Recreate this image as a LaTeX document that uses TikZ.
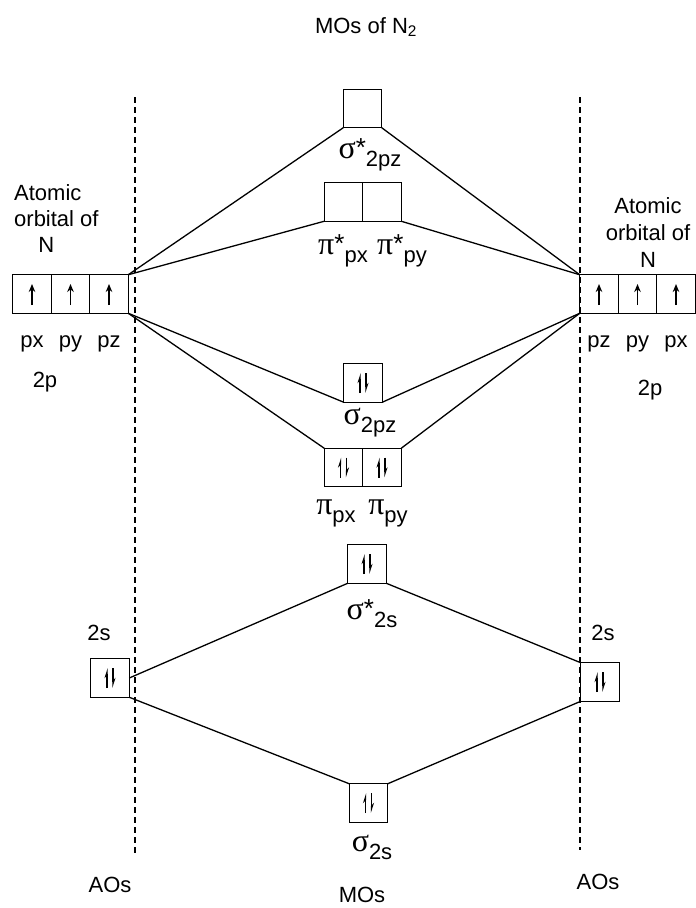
\documentclass[tikz,border=0pt]{standalone}
\usepackage{fontspec}
\setmainfont{Liberation Sans}
\newfontfamily\grkfont{Liberation Serif}
\usetikzlibrary{positioning,arrows.meta}

% orbital labels: big greek letter, lowered index
\newcommand{\molab}[3]{{\grkfont\fontsize{32}{34}\selectfont #1}#2\raisebox{-8pt}{#3}}
\newcommand{\anti}{\raisebox{2pt}{\fontsize{26}{26}\selectfont *}}
% electrons in a box
\newcommand{\upspin}[1]{\draw[spin,-{Stealth[length=8pt,width=6.5pt]}] ([yshift=-11pt]#1.center) -- ([yshift=10pt]#1.center);}
\newcommand{\paired}[1]{%
  \draw[spin,-{Stealth[left,length=8pt,width=5pt]}] ([xshift=-3pt,yshift=-10pt]#1.center) -- ([xshift=-3pt,yshift=10pt]#1.center);
  \draw[spin,-{Stealth[left,length=8pt,width=5pt]}] ([xshift=3pt,yshift=10pt]#1.center) -- ([xshift=3pt,yshift=-10pt]#1.center);}

\begin{document}
\begin{tikzpicture}[x=1pt,y=-1pt,
  orb/.style={draw, line width=1.4pt, minimum width=38.5pt, minimum height=38.5pt, inner sep=0pt, outer sep=0pt},
  lab/.style={font=\fontsize{22}{26}\selectfont, inner sep=0pt},
  link/.style={line width=1.3pt},
  spin/.style={line width=1.5pt},
  axis/.style={line width=1.4pt, dash pattern=on 6pt off 4pt}]
  \useasboundingbox (0,0) rectangle (696,908);

  \node[lab] (title) at (366,27) {MOs of N\textsubscript{2}};

  % dashed guides
  \coordinate (ltop) at (135,97);
  \coordinate (lbot) at (135,853);
  \coordinate (rtop) at (580,97);
  \coordinate (rbot) at (580,850);
  \draw[axis] (ltop) -- (lbot);
  \draw[axis] (rtop) -- (rbot);

  % atomic orbitals, left
  \node[lab, align=left, anchor=north west] (lname) at (14,184) {Atomic\\orbital of\\\hspace{1.1em}N};
  \node[orb] (lpx) at (32,294) {};
  \node[orb, right=0pt of lpx] (lpy) {};
  \node[orb, right=0pt of lpy] (lpz) {};
  \node[lab, below=22pt of lpx] (lpxl) {px};
  \node[lab, below=22pt of lpy] (lpyl) {py};
  \node[lab, below=22pt of lpz] (lpzl) {pz};
  \node[lab] (l2p) at (45,382) {2p};
  \node[orb] (l2s) at (110,678) {};
  \node[lab] (l2sl) at (99,633) {2s};

  % atomic orbitals, right
  \node[lab, align=center] (rname) at (648,233) {Atomic\\[1pt]orbital of\\[1pt]N};
  \node[orb] (rpz) at (599,294) {};
  \node[orb, right=0pt of rpz] (rpy) {};
  \node[orb, right=0pt of rpy] (rpx) {};
  \node[lab, below=22pt of rpz] (rpzl) {pz};
  \node[lab, below=22pt of rpy] (rpyl) {py};
  \node[lab, below=22pt of rpx] (rpxl) {px};
  \node[lab] (r2p) at (650,390) {2p};
  \node[orb] (r2s) at (600,682) {};
  \node[lab] (r2sl) at (603,633) {2s};

  % molecular orbitals
  \node[orb] (ssz) at (362.5,108.5) {};
  \node[lab] (sszl) at (370,155) {\molab{σ}{\anti}{2pz}};
  \node[orb] (psx) at (343.5,202) {};
  \node[orb, right=0pt of psx] (psy) {};
  \node[lab] (psxl) at (343,251) {\molab{π}{\anti}{px}};
  \node[lab] (psyl) at (402,251) {\molab{π}{\anti}{py}};
  \node[orb] (sz) at (363,383) {};
  \node[lab] (szl) at (370,423) {\molab{σ}{}{2pz}};
  \node[orb] (px) at (343.5,467.5) {};
  \node[orb, right=0pt of px] (py) {};
  \node[lab] (pxl) at (336,513) {\molab{π}{}{px}};
  \node[lab] (pyl) at (388,513) {\molab{π}{}{py}};
  \node[orb] (ss) at (367,564) {};
  \node[lab] (ssl) at (372,614) {\molab{σ}{\anti}{2s}};
  \node[orb] (s) at (368.5,803) {};
  \node[lab] (sl) at (372,847) {\molab{σ}{}{2s}};

  \node[lab] (laos) at (110,885) {AOs};
  \node[lab] (mos) at (362,895) {MOs};
  \node[lab] (raos) at (598,882) {AOs};

  % electrons
  \upspin{lpx} \upspin{lpy} \upspin{lpz}
  \upspin{rpz} \upspin{rpy} \upspin{rpx}
  \paired{sz} \paired{px} \paired{py}
  \paired{ss} \paired{s} \paired{l2s} \paired{r2s}

  % correlation lines
  \draw[link] (lpz.north east) -- (ssz.south west);
  \draw[link] (lpz.north east) -- (psx.south west);
  \draw[link] (rpz.north west) -- (ssz.south east);
  \draw[link] (rpz.north west) -- (psy.south east);
  \draw[link] (lpz.south east) -- (sz.south west);
  \draw[link] (lpz.south east) -- (px.north west);
  \draw[link] (rpz.south west) -- (sz.south east);
  \draw[link] (rpz.south west) -- (py.north east);
  \draw[link] (l2s.east) -- (ss.south west);
  \draw[link] (l2s.south east) -- (s.north west);
  \draw[link] (r2s.north west) -- (ss.south east);
  \draw[link] (r2s.south west) -- (s.north east);
\end{tikzpicture}
\end{document}
